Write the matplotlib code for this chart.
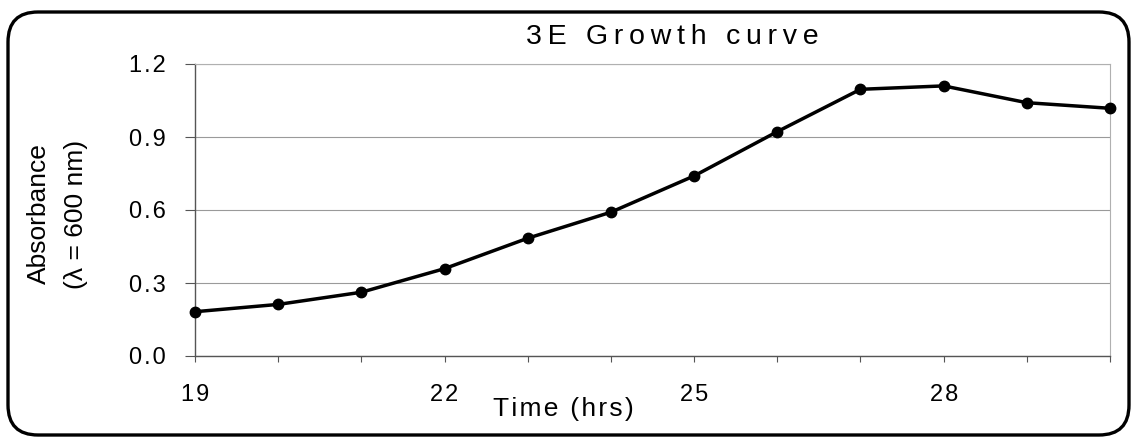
import matplotlib
matplotlib.use("Agg")
import matplotlib.pyplot as plt
import matplotlib.transforms as mtransforms
from matplotlib.patches import FancyBboxPatch
from matplotlib.ticker import MultipleLocator

# growth curve readings
hours = [19, 20, 21, 22, 23, 24, 25, 26, 27, 28, 29, 30]
absorbance = [0.182, 0.212, 0.262, 0.359, 0.484, 0.591, 0.740, 0.922, 1.096, 1.110, 1.041, 1.018]
x_ticks = [19, 22, 25, 28]
y_ticks = [0.0, 0.3, 0.6, 0.9, 1.2]

THIN = '\u2009'
HAIR = '\u200a'


def spaced(text, sep):
    # the original chart has wide letter spacing
    return sep.join(text)


plt.rcParams['font.family'] = ['Liberation Sans', 'DejaVu Sans']

fig = plt.figure(figsize=(11.32, 4.38), dpi=100)
ax = fig.add_axes([195 / 1132, 82 / 438, 915 / 1132, 292 / 438])

ax.plot(hours, absorbance, color='black', linewidth=2.5, marker='o', markersize=7.5, zorder=3,
        clip_on=False)

ax.set_xlim(19, 30)
ax.set_ylim(0, 1.2)
ax.set_xticks(x_ticks)
ax.set_xticklabels([spaced(str(t), HAIR) for t in x_ticks])
ax.xaxis.set_minor_locator(MultipleLocator(1))
ax.set_yticks(y_ticks)
ax.set_yticklabels([spaced('%.1f' % v, HAIR) for v in y_ticks])

ax.grid(axis='y', color='#9a9a9a', linewidth=0.8)
ax.set_axisbelow(True)
for side in ['top', 'right']:
    ax.spines[side].set_color('#b0b0b0')
    ax.spines[side].set_linewidth(0.8)
for side in ['left', 'bottom']:
    ax.spines[side].set_color('#555555')
    ax.spines[side].set_linewidth(1.0)

ax.tick_params(axis='x', which='both', direction='out', length=4, width=0.8, color='#555555',
               labelsize=17, pad=16)
ax.tick_params(axis='y', direction='out', length=7, width=0.8, color='#555555',
               labelsize=17, pad=14)

fig.text(672 / 1132, 401 / 438, spaced('3E Growth curve', THIN), fontsize=20.5,
         ha='center', va='center')
fig.text(563 / 1132, 29 / 438, spaced('Time (hrs)', HAIR), fontsize=19, ha='center', va='center')
fig.text(39 / 1132, 224 / 438, 'Absorbance', fontsize=19, rotation=90, ha='center', va='center')
fig.text(76 / 1132, 224 / 438, '(\u03bb = 600 nm)', fontsize=19, rotation=90, ha='center',
         va='center')

# rounded frame round the whole chart
frame = FancyBboxPatch((8, 3), 1121, 423, boxstyle='round,pad=0,rounding_size=30',
                       transform=mtransforms.IdentityTransform(), facecolor='none',
                       edgecolor='black', linewidth=2.4)
fig.add_artist(frame)

fig.savefig('out.png', dpi=100)
